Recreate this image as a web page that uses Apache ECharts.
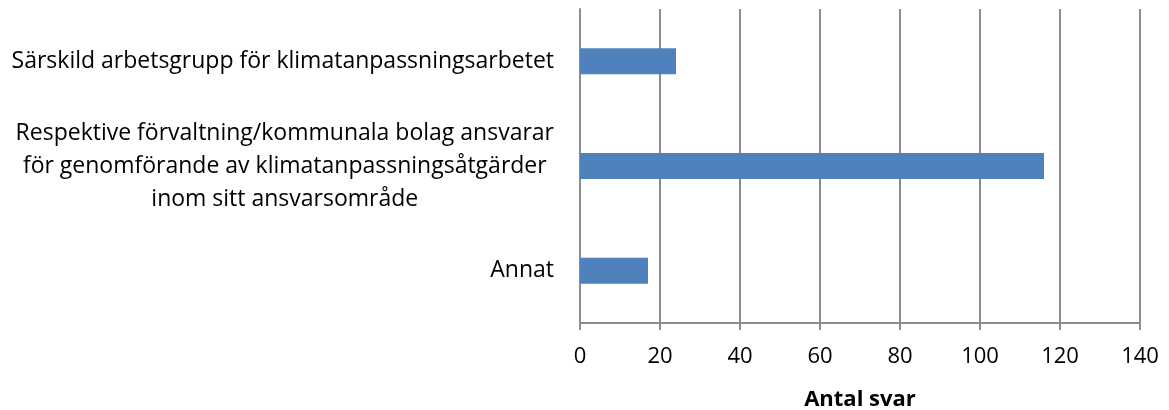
<!DOCTYPE html>
<html>
<head>
<meta charset="utf-8">
<script src="https://cdn.jsdelivr.net/npm/echarts@6/dist/echarts.min.js"></script>
<style>
  html, body { margin: 0; padding: 0; background: #fff; }
  #chart { width: 1169px; height: 410px; }
</style>
</head>
<body>
<div id="chart"></div>
<script>
// Data
const categories = [
    'Särskild arbetsgrupp för klimatanpassningsarbetet',
    'Respektive förvaltning/kommunala bolag ansvarar\nför genomförande av klimatanpassningsåtgärder\ninom sitt ansvarsområde',
    'Annat'
];
const answers = [24, 116, 17];
const axisMin = 0;
const axisMax = 140;
const axisStep = 20;
const axisTitle = 'Antal svar';

const font = '"Open Sans", sans-serif';
const gridColor = '#8c8c8c';

const chart = echarts.init(document.getElementById('chart'));

chart.setOption({
    backgroundColor: '#fff',
    animation: false,
    textStyle: { fontFamily: font },
    grid: { left: 580, right: 29, top: 9, bottom: 87, containLabel: false, outerBoundsMode: 'none' },
    xAxis: {
        type: 'value',
        min: axisMin,
        max: axisMax,
        interval: axisStep,
        name: axisTitle,
        nameLocation: 'middle',
        nameGap: 66,
        nameTextStyle: { color: '#000', fontSize: 22, fontWeight: 'bold', fontFamily: font },
        axisLine: { show: true, lineStyle: { color: gridColor, width: 2 } },
        axisTick: { show: true, length: 7, lineStyle: { color: gridColor, width: 2 } },
        axisLabel: { color: '#000', fontSize: 22, margin: 23, fontFamily: font },
        splitLine: { show: true, lineStyle: { color: gridColor, width: 2 } }
    },
    yAxis: {
        type: 'category',
        inverse: true,
        data: categories,
        axisLine: { show: true, lineStyle: { color: gridColor, width: 2 } },
        axisTick: { show: false },
        axisLabel: {
            margin: 26,
            formatter: v => v.split('\n').map(l => '{c|' + l + '}').join('\n'),
            rich: {
                c: { align: 'center', color: '#000', fontSize: 23, lineHeight: 33, fontFamily: font }
            }
        },
        splitLine: { show: false }
    },
    series: [{
        type: 'bar',
        data: answers,
        barWidth: 26,
        itemStyle: { color: '#4f81bd' }
    }]
});
</script>
</body>
</html>
